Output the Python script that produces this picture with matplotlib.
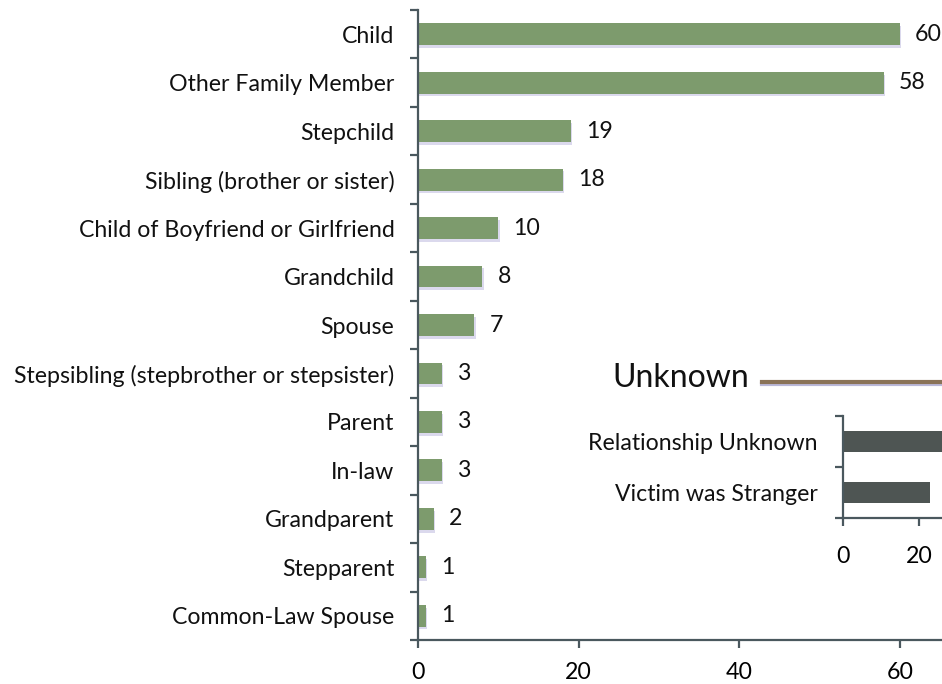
import matplotlib

matplotlib.use("Agg")
import matplotlib.pyplot as plt
import matplotlib.patheffects as pe
from matplotlib.lines import Line2D

plt.rcParams["font.family"] = ["Lato", "DejaVu Sans"]

# Relationship of victim to offender
relations = [
    "Child",
    "Other Family Member",
    "Stepchild",
    "Sibling (brother or sister)",
    "Child of Boyfriend or Girlfriend",
    "Grandchild",
    "Spouse",
    "Stepsibling (stepbrother or stepsister)",
    "Parent",
    "In-law",
    "Grandparent",
    "Stepparent",
    "Common-Law Spouse",
]
counts = [60, 58, 19, 18, 10, 8, 7, 3, 3, 3, 2, 1, 1]

unknown_labels = ["Relationship Unknown", "Victim was Stranger"]
unknown_counts = [40, 23]

main_ticks = [0, 20, 40, 60]
inset_ticks = [0, 20]

spine_col = "#4a585e"
green = "#7d9b6d"
txt = "#111111"
shadow = [pe.SimplePatchShadow(offset=(1, -2), shadow_rgbFace="#c4c0e2", alpha=0.6), pe.Normal()]
FS = 16.7

fig = plt.figure(figsize=(9.42, 6.84), dpi=100)

# main chart
ax = fig.add_axes([418 / 942, 44 / 684, 524 / 942, 630 / 684])
ypos = list(range(len(relations)))
bars = ax.barh(ypos, counts, height=0.45, color=green, path_effects=shadow)
for b, v in zip(bars, counts):
    ax.annotate(str(v), (b.get_width(), b.get_y() + b.get_height() / 2),
                xytext=(11, 0), textcoords="offset points",
                va="center", ha="left", fontsize=FS, color=txt)

ax.set_ylim(len(relations) - 0.5, -0.5)
ax.set_xlim(0, 524 / 8.03)
ax.set_yticks(ypos)
ax.set_yticklabels(relations, fontsize=FS, color=txt)
ax.set_yticks([i - 0.5 for i in range(len(relations) + 1)], minor=True)
ax.tick_params(axis="y", which="major", length=0, pad=17)
ax.tick_params(axis="y", which="minor", length=6, width=1.6, color=spine_col, direction="out")
ax.set_xticks(main_ticks)
ax.tick_params(axis="x", length=6, width=1.6, color=spine_col, labelsize=FS, pad=10)
for s in ["top", "right"]:
    ax.spines[s].set_visible(False)
for s in ["left", "bottom"]:
    ax.spines[s].set_color(spine_col)
    ax.spines[s].set_linewidth(1.6)

# "Unknown" inset
fig.text(612 / 942, 306 / 684, "Unknown", fontsize=23, va="center", ha="left", color=txt)
fig.add_artist(Line2D([762 / 942, 1.0], [302 / 684, 302 / 684], transform=fig.transFigure,
                      color="#8a7358", lw=3,
                      path_effects=[pe.SimpleLineShadow(offset=(0, -1.5), shadow_color="#a9a6d0", alpha=0.8), pe.Normal()]))

ax2 = fig.add_axes([843 / 942, 166 / 684, 99 / 942, 102 / 684])
ypos2 = list(range(len(unknown_labels)))
ax2.barh(ypos2, unknown_counts, height=0.41, color="#4e5553")
ax2.set_ylim(len(unknown_labels) - 0.5, -0.5)
ax2.set_xlim(0, 99 / 3.8)
ax2.set_yticks(ypos2)
ax2.set_yticklabels(unknown_labels, fontsize=FS, color=txt)
ax2.set_yticks([i - 0.5 for i in range(len(unknown_labels) + 1)], minor=True)
ax2.tick_params(axis="y", which="major", length=0, pad=18)
ax2.tick_params(axis="y", which="minor", length=6, width=1.6, color=spine_col, direction="out")
ax2.set_xticks(inset_ticks)
ax2.tick_params(axis="x", length=6, width=1.6, color=spine_col, labelsize=FS, pad=14)
for s in ["top", "right"]:
    ax2.spines[s].set_visible(False)
for s in ["left", "bottom"]:
    ax2.spines[s].set_color(spine_col)
    ax2.spines[s].set_linewidth(1.6)

fig.savefig("out.png", dpi=100)
plt.close()
